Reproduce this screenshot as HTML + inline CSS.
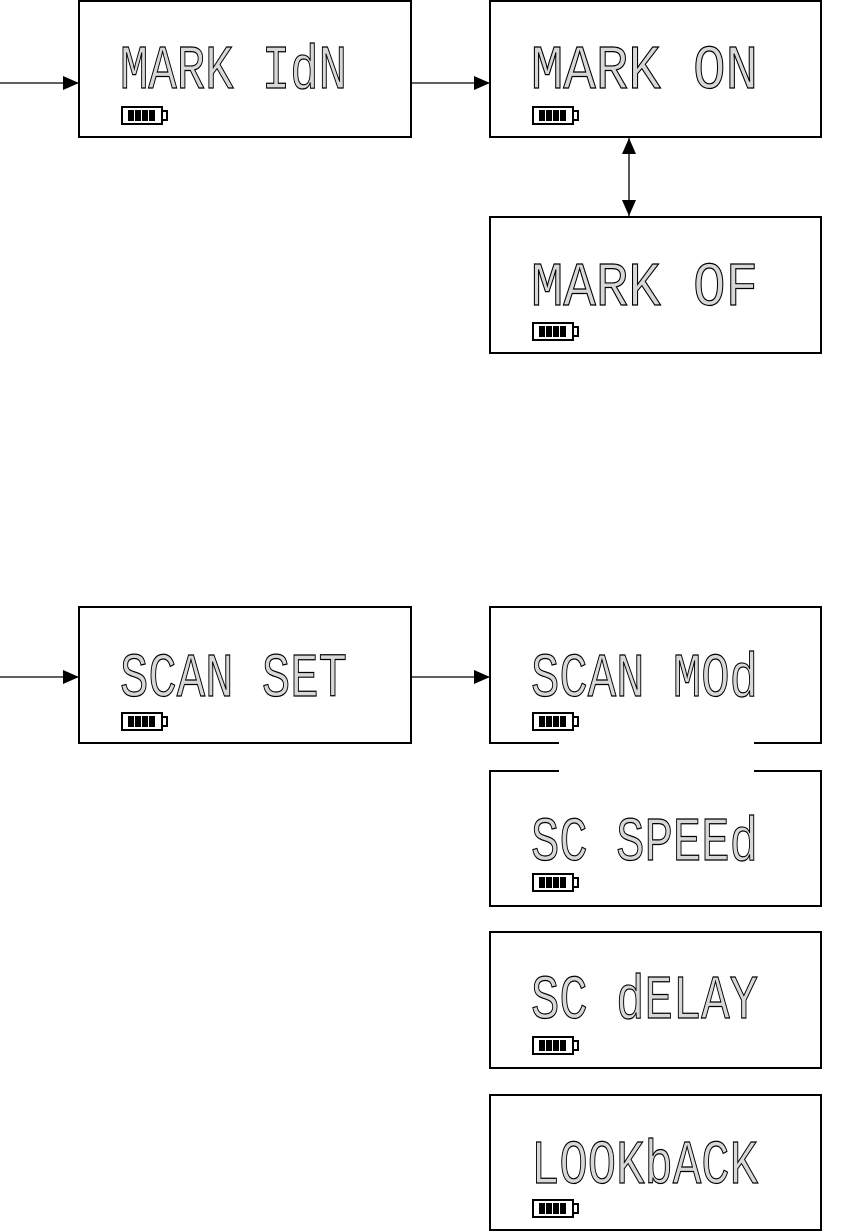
<!DOCTYPE html>
<html><head><meta charset="utf-8"><style>
html,body{margin:0;padding:0;background:#fff;}
svg{display:block}
.t{font-family:"Liberation Mono",monospace;font-size:62px;fill:#d8d8d8;stroke:#000;stroke-width:1.2;}
</style></head><body>
<svg width="856" height="1232" viewBox="0 0 856 1232" xmlns="http://www.w3.org/2000/svg">
<defs>
<marker id="ah" markerWidth="16" markerHeight="14" refX="16" refY="7" orient="auto" markerUnits="userSpaceOnUse">
<path d="M0,0 L16,7 L0,14 Z" fill="#000"/></marker>
<marker id="ahs" markerWidth="16" markerHeight="14" refX="0" refY="7" orient="auto" markerUnits="userSpaceOnUse">
<path d="M16,0 L0,7 L16,14 Z" fill="#000"/></marker>
<g id="bat">
<rect x="1" y="1" width="40" height="17" fill="#fff" stroke="#000" stroke-width="2"/>
<rect x="41" y="5" width="5" height="9" fill="#fff" stroke="#000" stroke-width="2"/>
<rect x="7" y="4" width="6" height="11" fill="#000"/>
<rect x="14" y="4" width="6" height="11" fill="#000"/>
<rect x="21" y="4" width="6" height="11" fill="#000"/>
<rect x="28" y="4" width="6" height="11" fill="#000"/>
</g>
</defs>
<g fill="none" stroke="#000" stroke-width="2">
<rect x="79" y="1" width="332" height="136"/>
<rect x="490" y="1" width="331" height="136"/>
<rect x="490" y="217" width="331" height="136"/>
<rect x="79" y="607" width="332" height="136"/>
<path d="M559,743 L490,743 L490,607 L821,607 L821,743 L754,743"/>
<path d="M559,771 L490,771 L490,906 L821,906 L821,771 L754,771"/>
<rect x="490" y="932" width="331" height="136"/>
<rect x="490" y="1095" width="331" height="135"/>
</g>
<g stroke="#000" stroke-width="1.3">
<line x1="0" y1="83" x2="79" y2="83" marker-end="url(#ah)"/>
<line x1="411" y1="83" x2="490" y2="83" marker-end="url(#ah)"/>
<line x1="0" y1="677" x2="79" y2="677" marker-end="url(#ah)"/>
<line x1="411" y1="677" x2="490" y2="677" marker-end="url(#ah)"/>
<line x1="629" y1="138" x2="629" y2="216" marker-end="url(#ah)" marker-start="url(#ahs)"/>
</g>
<g class="t">
<text x="120" y="88" textLength="227" lengthAdjust="spacingAndGlyphs">MARK IdN</text>
<text x="531" y="88" textLength="227" lengthAdjust="spacingAndGlyphs">MARK  ON</text>
<text x="531" y="305" textLength="227" lengthAdjust="spacingAndGlyphs">MARK  OF</text>
<text x="120" y="696" textLength="227" lengthAdjust="spacingAndGlyphs">SCAN SET</text>
<text x="531" y="696" textLength="227" lengthAdjust="spacingAndGlyphs">SCAN MOd</text>
<text x="531" y="860" textLength="227" lengthAdjust="spacingAndGlyphs">SC SPEEd</text>
<text x="531" y="1018" textLength="227" lengthAdjust="spacingAndGlyphs">SC dELAY</text>
<text x="531" y="1183" textLength="227" lengthAdjust="spacingAndGlyphs">LOOKbACK</text>
</g>
<use href="#bat" x="121" y="106"/>
<use href="#bat" x="532" y="106"/>
<use href="#bat" x="532" y="322"/>
<use href="#bat" x="121" y="712"/>
<use href="#bat" x="532" y="712"/>
<use href="#bat" x="532" y="873"/>
<use href="#bat" x="532" y="1036"/>
<use href="#bat" x="532" y="1199"/>
</svg>
</body></html>
